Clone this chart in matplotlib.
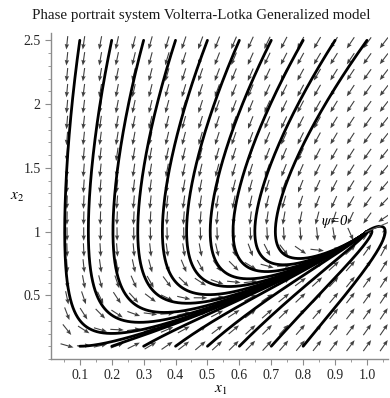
import numpy as np
import matplotlib
matplotlib.use('Agg')
import matplotlib.pyplot as plt
from matplotlib.ticker import MultipleLocator

plt.rcParams['font.family'] = ['Liberation Serif', 'DejaVu Serif']
plt.rcParams['mathtext.fontset'] = 'stix'

# ---- model parameters (generalized Volterra-Lotka) ----
a_rate = 1.0
k_rate = 3.5
p_exp = 0.5

# ---- initial conditions of the trajectories ----
start_top_x1 = [0.1, 0.2, 0.3, 0.4, 0.5, 0.6, 0.7, 0.8, 0.9, 1.0]
start_top_x2 = [2.5, 2.5, 2.5, 2.5, 2.5, 2.5, 2.5, 2.5, 2.5, 2.5]
start_bot_x1 = [0.1, 0.2, 0.3, 0.4, 0.5, 0.6, 0.7, 0.8]
start_bot_x2 = [0.1, 0.1, 0.1, 0.1, 0.1, 0.1, 0.1, 0.1]

x_ticks = [0.1, 0.2, 0.3, 0.4, 0.5, 0.6, 0.7, 0.8, 0.9, 1.0]
y_ticks = [0.5, 1.0, 1.5, 2.0, 2.5]

title = "Phase portrait system Volterra-Lotka Generalized model"


def rhs(x1, x2):
    x1p = np.maximum(x1, 0.0)
    return a_rate * x1 * (1 - x2), k_rate * x1p ** p_exp * (x1 - x2)


def integrate(x10, x20, T=25.0, dt=0.005):
    x1 = np.array(x10, float)
    x2 = np.array(x20, float)
    out1 = [x1.copy()]
    out2 = [x2.copy()]
    for _ in range(int(T / dt)):
        k1 = rhs(x1, x2)
        k2 = rhs(x1 + dt / 2 * k1[0], x2 + dt / 2 * k1[1])
        k3 = rhs(x1 + dt / 2 * k2[0], x2 + dt / 2 * k2[1])
        k4 = rhs(x1 + dt * k3[0], x2 + dt * k3[1])
        x1 = x1 + dt / 6 * (k1[0] + 2 * k2[0] + 2 * k3[0] + k4[0])
        x2 = x2 + dt / 6 * (k1[1] + 2 * k2[1] + 2 * k3[1] + k4[1])
        out1.append(x1.copy())
        out2.append(x2.copy())
    return np.array(out1), np.array(out2)


fig = plt.figure(figsize=(3.9, 3.98), dpi=100)
ax = fig.add_axes([0.131, 0.098, 0.864, 0.819])
xmin, xmax, ymin, ymax = 0.01, 1.066, 0.0, 2.557
ax.set_xlim(xmin, xmax)
ax.set_ylim(ymin, ymax)

# ---- direction field (20 x 20 grid) ----
gx = np.linspace(0.06, 1.053, 20)
gy = np.linspace(0.105, 2.48, 20)
GX, GY = np.meshgrid(gx, gy)
U, V = rhs(GX, GY)
bbox = ax.get_window_extent()
sx = bbox.width / (xmax - xmin)
sy = bbox.height / (ymax - ymin)
Up, Vp = U * sx, V * sy
N = np.hypot(Up, Vp)
N[N == 0] = 1
ax.quiver(GX, GY, Up / N, Vp / N, angles='uv', scale_units='dots', scale=1 / 13.5,
          pivot='middle', units='dots', width=1.1, headwidth=4, headlength=5,
          headaxislength=4.5, color='0.25', zorder=2)

# ---- trajectories ----
X1, X2 = integrate(start_top_x1 + start_bot_x1, start_top_x2 + start_bot_x2)
for i in range(X1.shape[1]):
    ax.plot(X1[:, i], X2[:, i], color='black', lw=2.0, solid_capstyle='round', zorder=3)

# ---- psi = 0 line and label ----
ax.plot([0.995, 1.066], [0.995, 1.07], color='0.35', lw=0.8, zorder=4)
ax.text(0.9, 1.075, r'$\psi$=0', fontsize=10.5, style='italic', ha='center', va='center', zorder=5)

# ---- axes styling ----
for s in ['top', 'right']:
    ax.spines[s].set_visible(False)
for s in ['left', 'bottom']:
    ax.spines[s].set_color('0.55')
    ax.spines[s].set_linewidth(1.0)
ax.set_xticks(x_ticks)
ax.set_xticklabels([f"{v:.1f}" for v in x_ticks])
ax.set_yticks(y_ticks)
ax.set_yticklabels([f"{v:g}" for v in y_ticks])
ax.xaxis.set_minor_locator(MultipleLocator(0.05))
ax.yaxis.set_minor_locator(MultipleLocator(0.1))
ax.tick_params(which='both', direction='out', color='0.55', labelsize=10, labelcolor='0.15')
ax.tick_params(which='major', length=4)
ax.tick_params(which='minor', length=2)

fig.text(0.515, 0.962, title, ha='center', va='center', fontsize=10.8, color='0.1')
fig.text(0.565, 0.02, r'$x_1$', ha='center', va='center', fontsize=11)
fig.text(0.045, 0.505, r'$x_2$', ha='center', va='center', fontsize=11)

fig.savefig('out.png', dpi=100)
